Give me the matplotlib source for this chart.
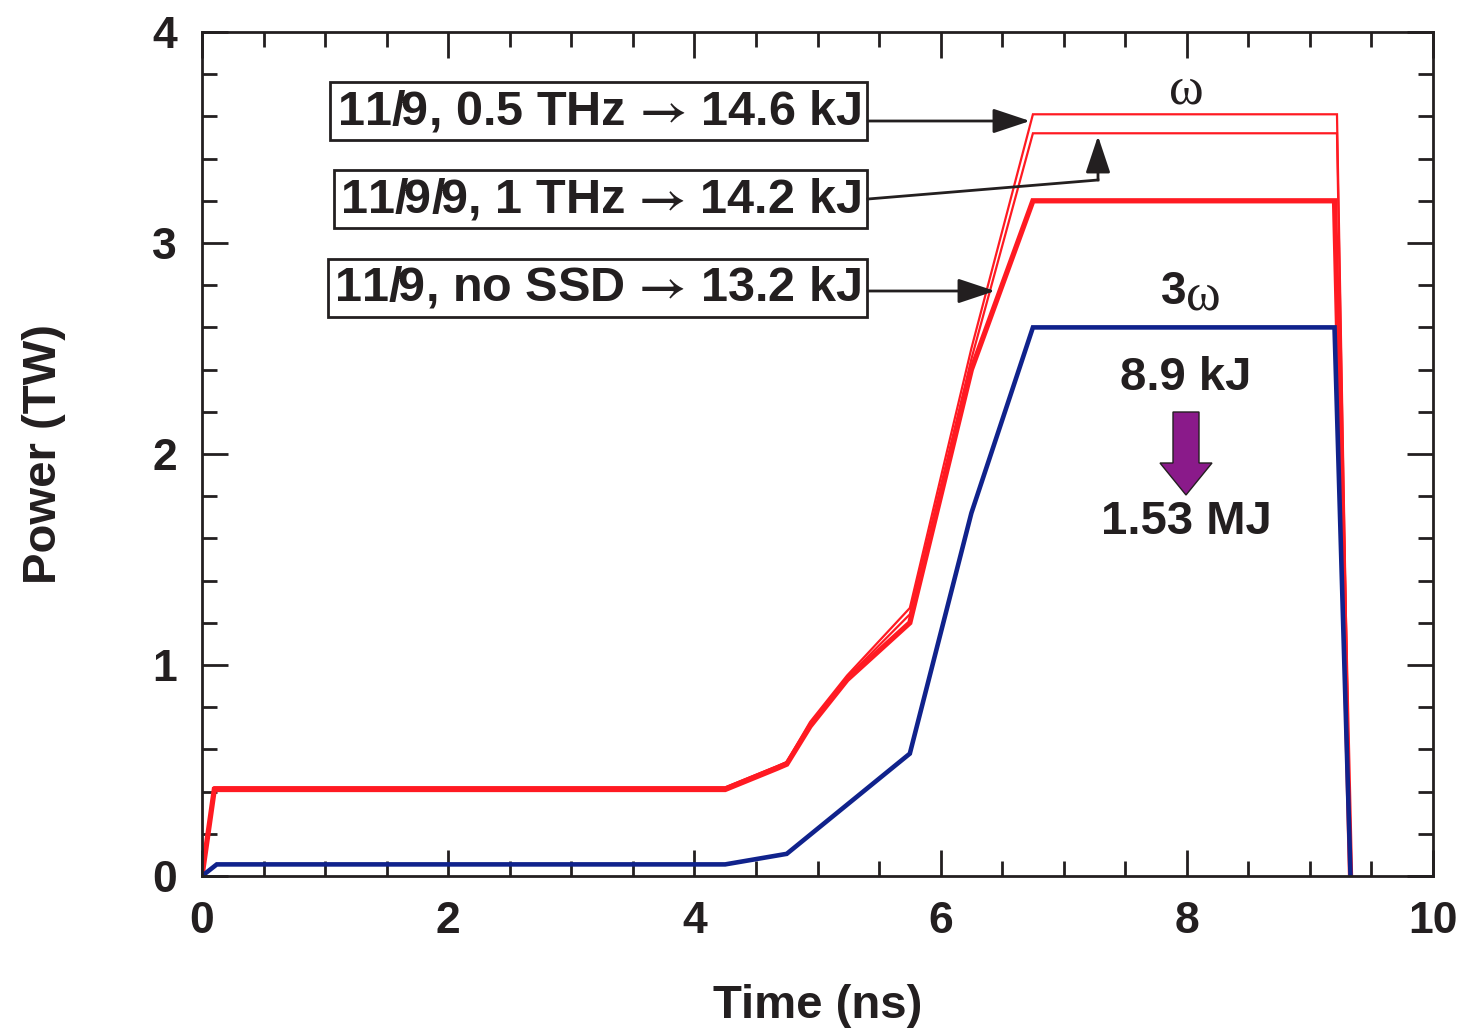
import matplotlib
matplotlib.use("Agg")
import matplotlib.pyplot as plt
from matplotlib.ticker import MultipleLocator
from matplotlib.patches import FancyArrow

plt.rcParams['font.family'] = ['Liberation Sans', 'DejaVu Sans']
plt.rcParams['font.weight'] = 'bold'
plt.rcParams['mathtext.fontset'] = 'stix'

# ---- data ----
t_05thz = [0, 0.10, 4.25, 4.67, 4.75, 4.94, 5.24, 5.75, 6.25, 6.75, 9.22, 9.33]
p_05thz = [0, 0.42, 0.42, 0.52, 0.54, 0.73, 0.95, 1.27, 2.50, 3.61, 3.61, 0]

t_1thz = [0, 0.10, 4.25, 4.67, 4.75, 4.94, 5.24, 5.75, 6.25, 6.75, 9.22, 9.33]
p_1thz = [0, 0.42, 0.42, 0.52, 0.54, 0.72, 0.94, 1.24, 2.45, 3.52, 3.52, 0]

t_nossd = [0, 0.10, 4.25, 4.67, 4.75, 4.94, 5.24, 5.75, 6.25, 6.75, 9.20, 9.33]
p_nossd = [0, 0.41, 0.41, 0.51, 0.53, 0.71, 0.93, 1.20, 2.40, 3.20, 3.20, 0]

t_3w = [0, 0.12, 4.25, 4.75, 5.75, 6.25, 6.75, 9.20, 9.33]
p_3w = [0, 0.055, 0.055, 0.105, 0.58, 1.72, 2.60, 2.60, 0]

box_labels = ["11/9, 0.5 THz$\\,\\rightarrow\\,$14.6 kJ",
              "11/9/9, 1 THz$\\,\\rightarrow\\,$14.2 kJ",
              "11/9, no SSD$\\,\\rightarrow\\,$13.2 kJ"]

RED = '#FF1A22'
BLUE = '#10228C'
PURPLE = '#8A1A8A'
INK = '#231F20'

W, H = 1465, 1034
fig = plt.figure(figsize=(W / 100, H / 100), dpi=100)
ax = fig.add_axes([202 / W, 1 - 876 / H, (1433 - 202) / W, (876 - 32) / H])

ax.plot(t_05thz, p_05thz, color=RED, lw=1.6, solid_joinstyle='miter')
ax.plot(t_1thz, p_1thz, color=RED, lw=1.6, solid_joinstyle='miter')
ax.plot(t_nossd, p_nossd, color=RED, lw=3.8, solid_joinstyle='miter')
ax.plot(t_3w, p_3w, color=BLUE, lw=3.3, solid_joinstyle='miter')

ax.set_xlim(0, 10)
ax.set_ylim(0, 4)
ax.xaxis.set_major_locator(MultipleLocator(2))
ax.xaxis.set_minor_locator(MultipleLocator(0.5))
ax.yaxis.set_major_locator(MultipleLocator(1))
ax.yaxis.set_minor_locator(MultipleLocator(0.2))
ax.tick_params(which='both', direction='in', top=True, right=True,
               color=INK, width=2.0)
ax.tick_params(which='major', length=19, labelsize=32, labelcolor=INK)
ax.tick_params(axis='x', which='major', pad=18)
ax.tick_params(axis='y', which='major', pad=18)
ax.tick_params(which='minor', length=11)
for lab in ax.get_xticklabels() + ax.get_yticklabels():
    lab.set_fontweight('bold')
for s in ax.spines.values():
    s.set_linewidth(2.0)
    s.set_color(INK)

ax.set_xlabel('Time (ns)', fontsize=34, fontweight='bold', color=INK, labelpad=30)
ax.set_ylabel('Power (TW)', fontsize=34, fontweight='bold', color=INK, labelpad=62)


def d(px, py):
    """pixel position in the figure -> data coordinates (for annotations)"""
    return ((px - 202) / 123.1, (876 - py) / 211.0)


# boxed labels
box_kw = dict(boxstyle='square,pad=0.13', fc='white', ec=INK, lw=2.0)
for cy, txt in zip([111, 199, 288], box_labels):
    ax.text(*d(861, cy), txt, fontsize=35, fontweight='bold', color=INK,
            ha='right', va='center', bbox=box_kw, zorder=5,
            family=['Liberation Sans Narrow', 'Liberation Sans', 'DejaVu Sans'])

arrow_kw = dict(arrowstyle='-|>,head_length=1.2,head_width=0.4', color=INK, lw=2.0,
                shrinkA=0, shrinkB=0, mutation_scale=19)
ax.annotate('', xy=d(1030, 121), xytext=d(868, 121), arrowprops=arrow_kw, zorder=6)
ax.annotate('', xy=d(995, 291), xytext=d(868, 291), arrowprops=arrow_kw, zorder=6)
x0, y0 = d(868, 199)
x1, y1 = d(1098, 180)
ax.plot([x0, x1], [y0, y1], color=INK, lw=2.0, zorder=6)
ax.annotate('', xy=d(1098, 136), xytext=d(1098, 180), arrowprops=arrow_kw, zorder=6)

# omega labels
ax.text(*d(1186, 90), '\u03c9', fontsize=38, color=INK, ha='center', va='center',
        family=['Liberation Serif', 'DejaVu Serif'], fontweight='normal')
ax.text(*d(1186, 292), '3', fontsize=33, color=INK, ha='right', va='center', fontweight='bold')
ax.text(*d(1186, 296), '\u03c9', fontsize=38, color=INK, ha='left', va='center',
        family=['Liberation Serif', 'DejaVu Serif'], fontweight='normal')

ax.text(*d(1186, 378), '8.9 kJ', fontsize=34, fontweight='bold', color=INK,
        ha='center', va='center')
ax.text(*d(1186, 522), '1.53 MJ', fontsize=34, fontweight='bold', color=INK,
        ha='center', va='center')

# purple block arrow (down)
ax0, ay0 = d(1186, 412)
ax1, ay1 = d(1186, 495)
shaft_w = 26 / 123.1
head_w = 52 / 123.1
head_l = (495 - 463) / 211.0
ax.add_patch(FancyArrow(ax0, ay0, 0, ay1 - ay0, width=shaft_w, head_width=head_w,
                        head_length=head_l, length_includes_head=True,
                        fc=PURPLE, ec=INK, lw=1.0, zorder=6))

fig.savefig('out.png', dpi=100)
